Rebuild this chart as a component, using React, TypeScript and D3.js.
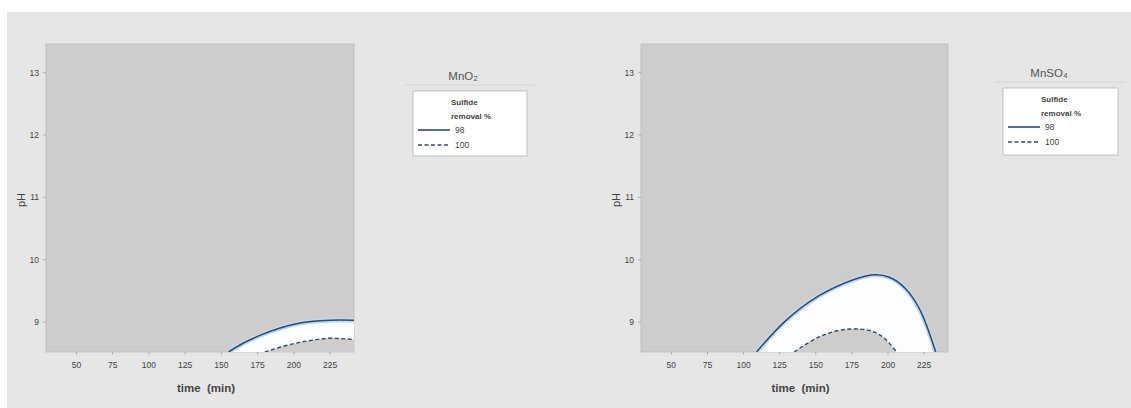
import React from "react";
import * as d3 from "d3";

const xTicks = [50, 75, 100, 125, 150, 175, 200, 225];
const yTicks = [9, 10, 11, 12, 13];
const xDomain: [number, number] = [29, 241.5];
const yDomain: [number, number] = [8.52, 13.46];

const legendTitleLines = ["Sulfide", "removal %"];
const legendLabels = ["98", "100"];

// MnO2 panel
const mno2Solid_t = [155, 165, 177, 190, 201, 212, 225, 241.5];
const mno2Solid_pH = [8.52, 8.66, 8.79, 8.9, 8.97, 9.01, 9.03, 9.03];
const mno2Dash_t = [180, 191, 203, 213, 224, 241.5];
const mno2Dash_pH = [8.52, 8.6, 8.67, 8.71, 8.74, 8.72];

// MnSO4 panel
const mnso4Solid_t = [109, 129, 152, 176, 190, 201, 212, 222, 233];
const mnso4Solid_pH = [8.52, 9.02, 9.42, 9.68, 9.76, 9.72, 9.54, 9.2, 8.52];
const mnso4Dash_t = [135, 152, 165, 177, 188, 197, 206];
const mnso4Dash_pH = [8.52, 8.76, 8.86, 8.89, 8.86, 8.75, 8.52];

const FONT = "'Liberation Sans', Arial, sans-serif";
const LINE = "#2d4b6c";

type PanelProps = {
  id: string;
  left: number;
  width: number;
  title: string;
  solidT: number[];
  solidP: number[];
  dashT: number[];
  dashP: number[];
  legendX: number;
  legendY: number;
  legendW: number;
  legendH: number;
  titleX: number;
  titleY: number;
};

function Panel(p: PanelProps) {
  const top = 44;
  const bottom = 352;
  const x = d3.scaleLinear().domain(xDomain).range([p.left, p.left + p.width]);
  const y = d3.scaleLinear().domain(yDomain).range([bottom, top]);
  const solid = p.solidT.map((t, i) => [t, p.solidP[i]] as [number, number]);
  const dash = p.dashT.map((t, i) => [t, p.dashP[i]] as [number, number]);
  const curve = d3.curveCatmullRom.alpha(0.5);
  const line = d3
    .line<[number, number]>()
    .x((d) => x(d[0]))
    .y((d) => y(d[1]))
    .curve(curve);
  const area = d3
    .area<[number, number]>()
    .x((d) => x(d[0]))
    .y0(y(yDomain[0]) + 2)
    .y1((d) => y(d[1]))
    .curve(curve);
  const clipId = "clip-" + p.id;
  const lx = p.legendX;
  const ly = p.legendY;
  return (
    <g>
      <defs>
        <clipPath id={clipId}>
          <rect x={p.left} y={top} width={p.width} height={bottom - top} />
        </clipPath>
      </defs>
      <rect x={p.left} y={top} width={p.width} height={bottom - top} fill="#cdcdcd" stroke="#bcbcbc" strokeWidth={0.8} />
      <g clipPath={`url(#${clipId})`}>
        <path d={area(solid) || ""} fill="#fbfdff" />
        <path d={area(dash) || ""} fill="#cdcdcd" />
        <path d={line(solid) || ""} fill="none" stroke="#c3d8ec" strokeWidth={5} />
        <path d={line(solid) || ""} fill="none" stroke={LINE} strokeWidth={1.5} />
        <path d={line(dash) || ""} fill="none" stroke={LINE} strokeWidth={1.4} strokeDasharray="4,2.5" />
      </g>
      {xTicks.map((t) => (
        <g key={"x" + t}>
          <line x1={x(t)} x2={x(t)} y1={bottom} y2={bottom + 3} stroke="#999" strokeWidth={0.7} />
          <text x={x(t)} y={bottom + 16} textAnchor="middle" fontFamily={FONT} fontSize={8.5} fill="#444">
            {t}
          </text>
        </g>
      ))}
      {yTicks.map((t) => (
        <g key={"y" + t}>
          <line x1={p.left - 3} x2={p.left} y1={y(t)} y2={y(t)} stroke="#999" strokeWidth={0.7} />
          <text x={p.left - 7} y={y(t) + 3} textAnchor="end" fontFamily={FONT} fontSize={8.5} fill="#444">
            {t}
          </text>
        </g>
      ))}
      <text
        x={p.left + p.width / 2 + 6}
        y={392}
        textAnchor="middle"
        fontFamily={FONT}
        fontSize={11.5}
        fontWeight="bold"
        fill="#444"
        xmlSpace="preserve"
      >
        {"time  (min)"}
      </text>
      <text
        transform={`translate(${p.left - 21},200) rotate(-90)`}
        textAnchor="middle"
        fontFamily={FONT}
        fontSize={11}
        fill="#444"
      >
        pH
      </text>
      {/* legend */}
      <text x={p.titleX} y={p.titleY} textAnchor="middle" fontFamily={FONT} fontSize={11.5} fill="#555">
        {p.title}
      </text>
      <line x1={lx - 8} x2={lx + p.legendW + 8} y1={p.titleY + 5} y2={p.titleY + 5} stroke="#d2d2d2" strokeWidth={0.8} />
      <rect x={lx} y={ly} width={p.legendW} height={p.legendH} fill="#ffffff" stroke="#b5b5b5" strokeWidth={0.8} />
      <text x={lx + 38} y={ly + 14} fontFamily={FONT} fontSize={8} fontWeight="bold" fill="#444">
        {legendTitleLines[0]}
      </text>
      <text x={lx + 38} y={ly + 28} fontFamily={FONT} fontSize={8} fontWeight="bold" fill="#444">
        {legendTitleLines[1]}
      </text>
      <line x1={lx + 5} x2={lx + 37} y1={ly + 39} y2={ly + 39} stroke={LINE} strokeWidth={1.6} />
      <text x={lx + 42} y={ly + 42} fontFamily={FONT} fontSize={8.5} fill="#444">
        {legendLabels[0]}
      </text>
      <line x1={lx + 5} x2={lx + 37} y1={ly + 54} y2={ly + 54} stroke={LINE} strokeWidth={1.4} strokeDasharray="4,2.5" />
      <text x={lx + 42} y={ly + 57} fontFamily={FONT} fontSize={8.5} fill="#444">
        {legendLabels[1]}
      </text>
    </g>
  );
}

export default function App() {
  return (
    <div style={{ position: "fixed", left: 0, top: 0 }}>
      <svg width={1131} height={408} style={{ display: "block" }}>
        <rect x={0} y={0} width={1131} height={408} fill="#ffffff" />
        <rect x={7} y={12} width={1124} height={396} fill="#e6e6e6" />
        <Panel
          id="a"
          left={46}
          width={308}
          title="MnO₂"
          solidT={mno2Solid_t}
          solidP={mno2Solid_pH}
          dashT={mno2Dash_t}
          dashP={mno2Dash_pH}
          legendX={413}
          legendY={91}
          legendW={114}
          legendH={65}
          titleX={463}
          titleY={80}
        />
        <Panel
          id="b"
          left={641}
          width={307}
          title="MnSO₄"
          solidT={mnso4Solid_t}
          solidP={mnso4Solid_pH}
          dashT={mnso4Dash_t}
          dashP={mnso4Dash_pH}
          legendX={1003}
          legendY={88}
          legendW={115}
          legendH={67}
          titleX={1049}
          titleY={77}
        />
      </svg>
    </div>
  );
}
